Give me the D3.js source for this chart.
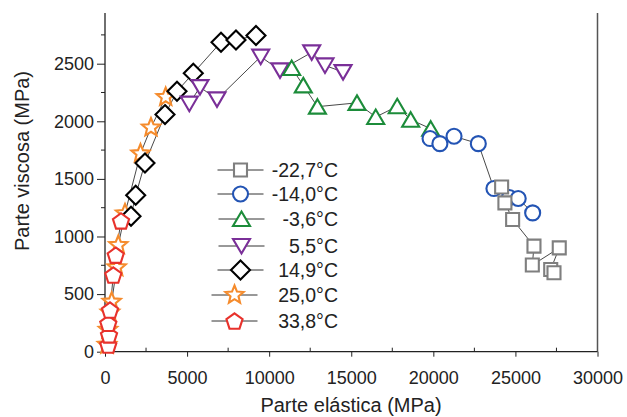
<!DOCTYPE html>
<html><head><meta charset="utf-8">
<script src="https://cdn.jsdelivr.net/npm/d3@7"></script>
<style>body{margin:0;background:#fff}svg{display:block;font-family:"Liberation Sans",Arial,sans-serif}</style>
</head><body>
<script>
const seriesNames = ["-22,7°C","-14,0°C","-3,6°C","5,5°C","14,9°C","25,0°C","33,8°C"];
const xTicks = [0,5000,10000,15000,20000,25000,30000];
const yTicks = [0,500,1000,1500,2000,2500];
const s1x = [24160,24360,24830,26130,26030,27670,27150,27350];
const s1y = [1430,1292,1148,916,752,901,714,685];
const s2x = [19800,20400,21260,22740,23690,24630,25170,26050];
const s2y = [1850,1806,1870,1806,1416,1338,1330,1205];
const s3x = [11370,12080,12940,15350,16490,17800,18620,19840];
const s3y = [2462,2312,2127,2160,2037,2130,2014,1936];
const s4x = [5135,5786,6822,9484,10660,12590,13400,14500];
const s4y = [2153,2297,2190,2561,2442,2598,2485,2427];
const s5x = [1584,1870,2436,3655,4386,5378,7066,7979,9197];
const s5y = [1176,1358,1638,2058,2260,2418,2687,2706,2745];
const s6x = [120,180,300,408,713,810,1218,2162,2802,3697];
const s6y = [60,190,340,433,732,925,1200,1720,1945,2210];
const s7x = [201,244,201,305,506,652,975];
const s7y = [58,145,246,361,665,838,1135];

const W=627,H=417;
const x=d3.scaleLinear().domain([0,30000]).range([105,597.5]);
const y=d3.scaleLinear().domain([0,2940]).range([351.7,13]);

const svg=d3.select("body").append("svg").attr("width",W).attr("height",H);

function star(ro,ri){let p=[];for(let i=0;i<10;i++){const r=i%2?ri:ro;const a=-Math.PI/2+i*Math.PI/5;p.push([r*Math.cos(a),r*Math.sin(a)]);}return "M"+p.map(d=>d.join(",")).join("L")+"Z";}
function poly(n,r,dy){let p=[];for(let i=0;i<n;i++){const a=-Math.PI/2+i*2*Math.PI/n;p.push([r*Math.cos(a),r*Math.sin(a)+dy]);}return "M"+p.map(d=>d.join(",")).join("L")+"Z";}
const shapes=[
 "M-6.5,-6.5H6.5V6.5H-6.5Z",
 "M7.5,0A7.5,7.5 0 1,1 -7.5,0A7.5,7.5 0 1,1 7.5,0Z",
 "M0,-7.5L8.5,7L-8.5,7Z",
 "M0,7.5L8.5,-7L-8.5,-7Z",
 "M0,-9.5L9.5,0L0,9.5L-9.5,0Z",
 star(9.5,4.2),
 poly(5,8.5,0.8)
];
const colors=["#7f7f7f","#2354b4","#1c8c3a","#7a2f98","#000000","#f58b2c","#e8322c"];
const sx=[s1x,s2x,s3x,s4x,s5x,s6x,s7x], sy=[s1y,s2y,s3y,s4y,s5y,s6y,s7y];

// axes
const g=svg.append("g");
g.append("line").attr("x1",105).attr("x2",105).attr("y1",13).attr("y2",351.7).attr("stroke","#222").attr("stroke-width",1.3);
g.append("line").attr("x1",597.5).attr("x2",597.5).attr("y1",13).attr("y2",351.7).attr("stroke","#555").attr("stroke-width",1.5);
g.append("line").attr("x1",105).attr("x2",597.5).attr("y1",351.7).attr("y2",351.7).attr("stroke","#222").attr("stroke-width",1.3);
const yAx=d3.axisLeft(y).tickValues(yTicks).tickFormat(d3.format("d")).tickSize(8).tickPadding(3);
const ya=svg.append("g").attr("transform","translate(105,0)").call(yAx);
ya.select(".domain").remove();
ya.selectAll("text").attr("font-size",18).attr("fill","#222").style("font-family","Liberation Sans, Arial");
ya.selectAll("line").attr("stroke","#222");
svg.append("g").selectAll("line").data(d3.range(250,2900,500)).join("line")
 .attr("x1",101).attr("x2",105).attr("y1",d=>y(d)).attr("y2",d=>y(d)).attr("stroke","#222");
const xAx=d3.axisBottom(x).tickValues(xTicks).tickFormat(d3.format("d")).tickSize(5).tickPadding(15);
const xa=svg.append("g").attr("transform","translate(0,351.7)").call(xAx);
xa.select(".domain").remove();
xa.selectAll("text").attr("font-size",18).attr("fill","#222").style("font-family","Liberation Sans, Arial");
xa.selectAll("line").attr("stroke","#222");
svg.append("g").selectAll("line").data(d3.range(2500,30000,5000)).join("line")
 .attr("x1",d=>x(d)).attr("x2",d=>x(d)).attr("y1",351.7).attr("y2",347.7).attr("stroke","#222");

svg.append("text").attr("x",351).attr("y",412).attr("text-anchor","middle").attr("font-size",20).attr("fill","#222").text("Parte elástica (MPa)");
svg.append("text").attr("transform","translate(29,161) rotate(-90)").attr("text-anchor","middle").attr("font-size",20).attr("fill","#222").text("Parte viscosa (MPa)");

// lines + markers
const line=d3.line().x(d=>x(d[0])).y(d=>y(d[1]));
const order=[5,4,3,2,1,0,6];
order.forEach(i=>{
  const pts=sx[i].map((v,k)=>[v,sy[i][k]]);
  svg.append("path").attr("d",line(pts)).attr("fill","none").attr("stroke","#333").attr("stroke-width",0.9);
});
order.forEach(i=>{
  const pts=sx[i].map((v,k)=>[v,sy[i][k]]);
  svg.append("g").selectAll("path").data(pts).join("path")
   .attr("transform",d=>`translate(${x(d[0])},${y(d[1])})`)
   .attr("d",shapes[i]).attr("fill","#fff").attr("stroke",colors[i]).attr("stroke-width",2.1);
});

// legend
const ly=[170,194,219,246,270,295,321];
const lsx=[240.5,240.5,241.5,241.5,240.5,234.5,234.5];
const leg=svg.append("g");
seriesNames.forEach((n,i)=>{
  leg.append("line").attr("x1",lsx[i]-23).attr("x2",lsx[i]+23).attr("y1",ly[i]).attr("y2",ly[i]).attr("stroke","#333").attr("stroke-width",1);
  leg.append("path").attr("transform",`translate(${lsx[i]},${ly[i]})`).attr("d",shapes[i]).attr("fill","#fff").attr("stroke",colors[i]).attr("stroke-width",2.1);
  leg.append("text").attr("x",338).attr("y",ly[i]+7).attr("text-anchor","end").attr("font-size",19.5).attr("fill","#222").text(n);
});
</script>
</body></html>
